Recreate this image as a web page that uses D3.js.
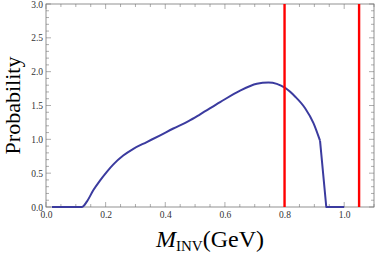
<!DOCTYPE html>
<html>
<head>
<meta charset="utf-8">
<script src="https://cdn.jsdelivr.net/npm/d3@7"></script>
<style>
  body { margin: 0; background: #fff; }
  text { font-family: "Liberation Serif", "DejaVu Serif", serif; }
</style>
</head>
<body>
<div class="graph-center"></div>
<script>
// data
let massValues = [0.02, 0.12, 0.137, 0.159, 0.181, 0.204, 0.226, 0.259, 0.293, 0.338, 0.383, 0.427, 0.478, 0.517, 0.584, 0.651, 0.707, 0.746, 0.774, 0.802, 0.836, 0.869, 0.897, 0.919, 0.94, 1.0]
let probValues = [0, 0, 0.08, 0.25, 0.39, 0.52, 0.63, 0.76, 0.86, 0.96, 1.06, 1.16, 1.27, 1.37, 1.55, 1.72, 1.82, 1.84, 1.82, 1.76, 1.63, 1.46, 1.24, 0.98, 0, 0]
let cutLines = [0.8, 1.05]
let xTicks = [0, 0.2, 0.4, 0.6, 0.8, 1.0]
let yTicks = [0, 0.5, 1.0, 1.5, 2.0, 2.5, 3.0]

let svgWidth = 375
let svgHeight = 253
let margin = { left: 46, right: 1, top: 4, bottom: 46 }
let width = svgWidth - margin.left - margin.right
let height = svgHeight - margin.top - margin.bottom

let svg = d3.select('.graph-center')
    .append('svg')
    .attr('width', svgWidth)
    .attr('height', svgHeight)
    .append('g')
    .attr('transform', `translate(${margin.left},${margin.top})`)

let xScale = d3.scaleLinear().domain([0, 1.1]).range([0, width])
let yScale = d3.scaleLinear().domain([0, 3]).range([height, 0])

let frameColor = '#777'
let serif = '"Liberation Serif", "DejaVu Serif", serif'

// minor & major ticks, pointing inwards on all four sides
let xMinor = d3.range(0, 1.1001, 0.05)
let yMinor = d3.range(0, 3.0001, 0.1)

function tickSet(vals, major, horizontal) {
    vals.forEach(v => {
        let isMajor = major.some(m => Math.abs(m - v) < 1e-6)
        let len = isMajor ? 5 : 3
        if (horizontal) {
            let x = xScale(v)
            svg.append('line').attr('x1', x).attr('x2', x).attr('y1', height).attr('y2', height - len)
                .attr('stroke', frameColor).attr('stroke-width', 0.6)
            svg.append('line').attr('x1', x).attr('x2', x).attr('y1', 0).attr('y2', len)
                .attr('stroke', frameColor).attr('stroke-width', 0.6)
        } else {
            let y = yScale(v)
            svg.append('line').attr('x1', 0).attr('x2', len).attr('y1', y).attr('y2', y)
                .attr('stroke', frameColor).attr('stroke-width', 0.6)
            svg.append('line').attr('x1', width).attr('x2', width - len).attr('y1', y).attr('y2', y)
                .attr('stroke', frameColor).attr('stroke-width', 0.6)
        }
    })
}
tickSet(xMinor, xTicks, true)
tickSet(yMinor, yTicks, false)

// axis labels via d3 axes (tick lines hidden, only text)
let xAxis = d3.axisBottom(xScale).tickValues(xTicks).tickFormat(d3.format('.1f')).tickSize(0).tickPadding(4)
let yAxis = d3.axisLeft(yScale).tickValues(yTicks).tickFormat(d3.format('.1f')).tickSize(0).tickPadding(3)

svg.append('g').attr('transform', `translate(0,${height})`).call(xAxis)
    .attr('font-family', serif).attr('font-size', 9.5)
    .call(g => g.select('.domain').remove())
    .selectAll('text').attr('fill', '#333')

svg.append('g').call(yAxis)
    .attr('font-family', serif).attr('font-size', 9.5)
    .call(g => g.select('.domain').remove())
    .selectAll('text').attr('fill', '#333')

// frame
svg.append('rect')
    .attr('width', width).attr('height', height)
    .attr('fill', 'none').attr('stroke', frameColor).attr('stroke-width', 0.8)

// curve: smooth part, then the sharp cut-off drawn straight
let data = massValues.map((m, i) => ({ m: m, p: probValues[i] }))
let kink = massValues.indexOf(0.919)

let smoothLine = d3.line()
    .x(d => xScale(d.m))
    .y(d => yScale(d.p))
    .curve(d3.curveMonotoneX)
let straightLine = d3.line()
    .x(d => xScale(d.m))
    .y(d => yScale(d.p))

svg.append('path')
    .attr('d', smoothLine(data.slice(0, kink + 1)))
    .attr('fill', 'none')
    .attr('stroke', '#3b3b9f')
    .attr('stroke-width', 2)
    .attr('stroke-linejoin', 'round')
svg.append('path')
    .attr('d', straightLine(data.slice(kink)))
    .attr('fill', 'none')
    .attr('stroke', '#3b3b9f')
    .attr('stroke-width', 2)
    .attr('stroke-linejoin', 'round')

// red cut lines
svg.selectAll('.cut')
    .data(cutLines)
    .enter()
    .append('line')
    .attr('class', 'cut')
    .attr('x1', d => xScale(d)).attr('x2', d => xScale(d))
    .attr('y1', 0).attr('y2', height)
    .attr('stroke', '#ff0000')
    .attr('stroke-width', 2.4)

// titles
svg.append('text')
    .attr('transform', `translate(${-26},${height / 2}) rotate(-90)`)
    .attr('text-anchor', 'middle')
    .attr('font-size', 22)
    .text('Probability')

let xl = svg.append('text')
    .attr('x', (xScale(0.37) + xScale(0.73)) / 2)
    .attr('y', height + 40)
    .attr('text-anchor', 'middle')
    .attr('font-size', 24)
xl.append('tspan').attr('font-style', 'italic').text('M')
xl.append('tspan').attr('font-size', 15).attr('dy', 4).text('INV')
xl.append('tspan').attr('dy', -4).text('(GeV)')
</script>
</body>
</html>
